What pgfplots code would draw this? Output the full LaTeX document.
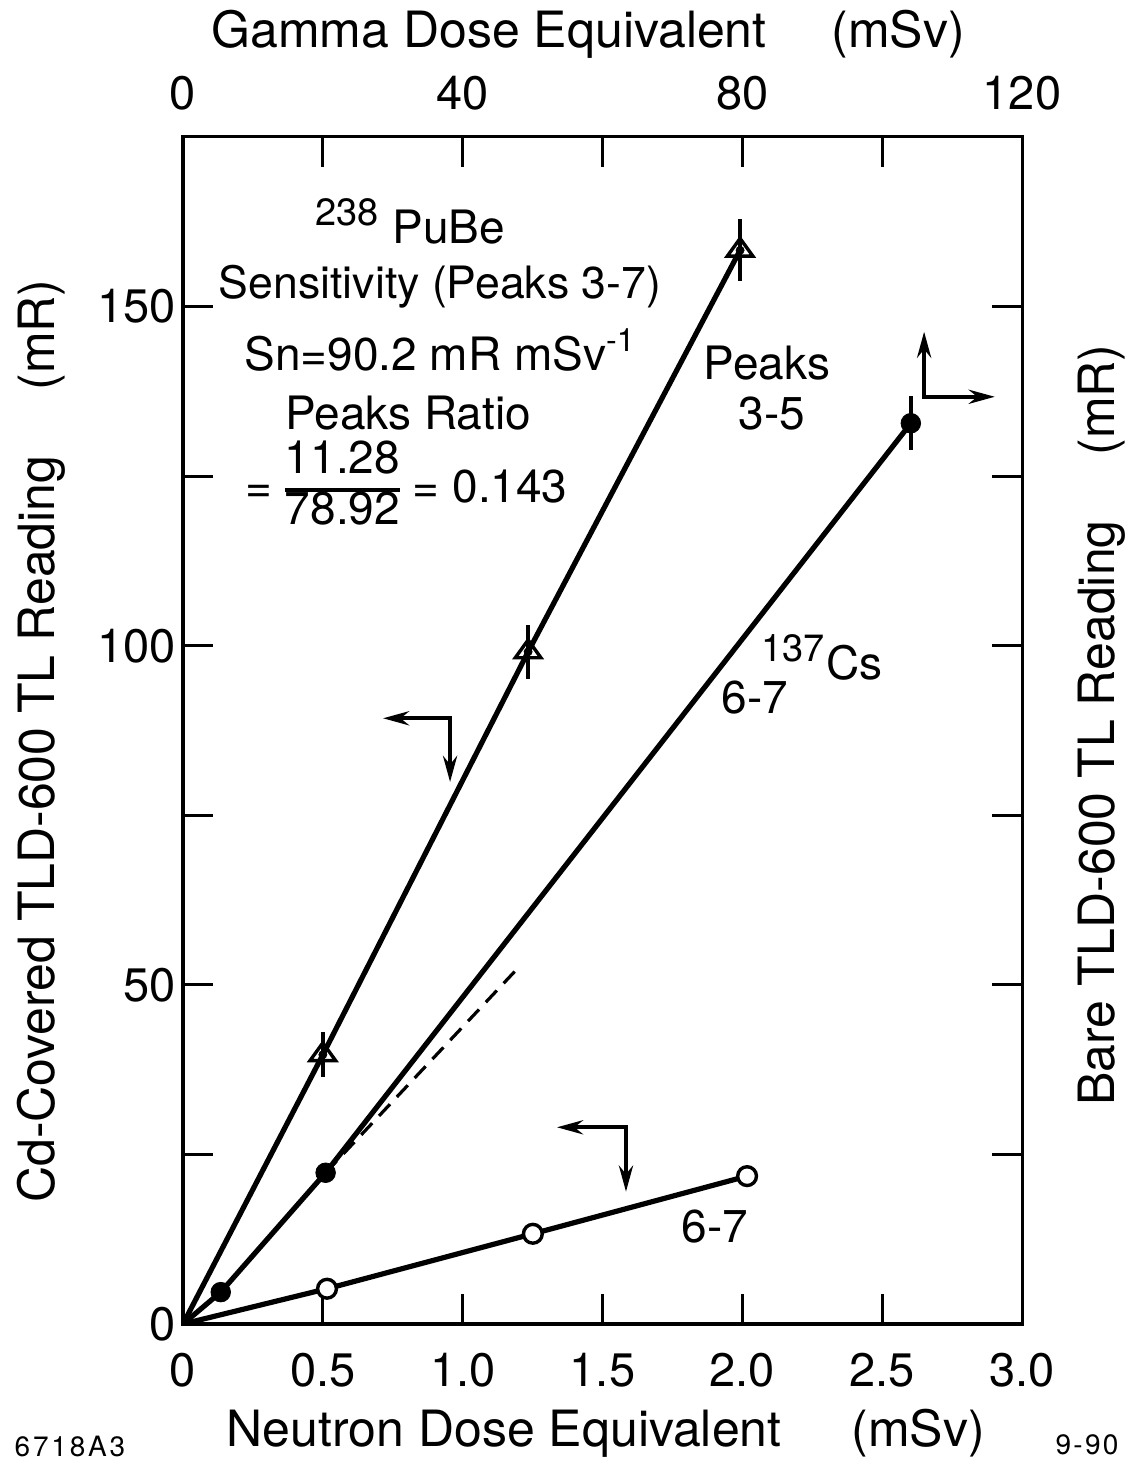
\documentclass[border=0pt]{standalone}
\usepackage{fontspec}
\setmainfont{TeX Gyre Heros}
\usepackage{pgfplots}
\pgfplotsset{compat=1.18}
\usetikzlibrary{arrows.meta}
\newcommand{\ann}{\fontsize{23}{27}\selectfont}
\begin{document}
\begin{tikzpicture}[x=1pt,y=1pt]
\useasboundingbox (0,0) rectangle (563.5,732);
\pgfplotsset{
  common/.style={
    at={(91.5pt,70pt)}, anchor=south west,
    scale only axis, width=419.5pt, height=593.5pt,
    ymin=0, ymax=175,
    tick align=inside,
    major tick length=15pt,
    axis line style={line width=1.5pt},
    every tick/.style={line width=1.5pt, black},
    tick label style={font=\fontsize{23.5}{27}\selectfont},
    /pgf/number format/assume math mode=true,
    label style={font=\fontsize{25}{30}\selectfont},
  }
}
\begin{axis}[common,
  xmin=0, xmax=3,
  xtick={0,0.5,...,3}, xticklabels={0,0.5,1.0,1.5,2.0,2.5,3.0},
  ytick={0,25,...,150}, yticklabels={0,,50,,100,,150},
  xtick pos=bottom, ytick pos=left,
  xticklabel style={yshift=-11pt},
  yticklabel style={xshift=0pt},
  xlabel={Neutron Dose Equivalent\hspace{1.4em}(mSv)},
  ylabel={Cd-Covered TLD-600 TL Reading\hspace{1.3em}(mR)},
  xlabel style={at={(axis description cs:0.504,-0.1036)}, anchor=base},
  ylabel style={at={(axis description cs:-0.1535,0.491)}, anchor=base},
]
% Cd-covered peaks 3-5 (triangles)
\addplot[line width=2.6pt] coordinates {(0,0) (0.5,39.7) (1.234,99.1) (1.992,158.3)};
\addplot[only marks, mark=none, error bars/.cd, y dir=both, y explicit, error mark=none,
  error bar style={line width=1.7pt, black}]
  coordinates {(0.5,39.7) +- (0,3.3) (1.234,99.1) +- (0,4.0) (1.992,158.3) +- (0,4.6)};
\addplot[only marks, mark=triangle, mark size=7.4pt,
  mark options={fill=white, draw=black, line width=1.7pt, yscale=0.8}]
  coordinates {(0.5,39.7) (1.234,99.1) (1.992,158.3)};
% Cd-covered peaks 6-7 (open circles)
\addplot[line width=2.6pt] coordinates {(0,0) (0.515,5.2) (1.251,13.3) (2.017,21.8)};
\addplot[only marks, mark=*, mark size=4.7pt,
  mark options={fill=white, draw=black, line width=1.7pt}]
  coordinates {(0.515,5.2) (1.251,13.3) (2.017,21.8)};
% arrows
\draw[line width=2.2pt, {Stealth[length=13pt,width=7pt]}-{Stealth[length=13pt,width=7pt]}]
  (axis cs:0.715,89.3) -- (axis cs:0.955,89.3) -- (axis cs:0.955,79.9);
\draw[line width=2.2pt, {Stealth[length=13pt,width=7pt]}-{Stealth[length=13pt,width=7pt]}]
  (axis cs:1.337,29.0) -- (axis cs:1.584,29.0) -- (axis cs:1.584,19.5);
\draw[line width=2.2pt, {Stealth[length=13pt,width=7pt]}-{Stealth[length=13pt,width=7pt]}]
  (axis cs:2.650,146.3) -- (axis cs:2.650,136.7) -- (axis cs:2.903,136.7);
% annotations
\node[font=\ann] at (axis cs:0.812,162.5) {\textsuperscript{\fontsize{19}{20}\selectfont 238} PuBe};
\node[font=\fontsize{22.3}{25}\selectfont] at (axis cs:0.919,152.9) {Sensitivity (Peaks 3-7)};
\node[font=\ann] at (axis cs:0.919,143.6) {Sn=90.2 mR mSv\textsuperscript{-1}};
\node[font=\ann] at (axis cs:0.805,134.3) {Peaks Ratio};
\node[font=\ann] at (axis cs:0.799,123.0) {\setlength{\arrayrulewidth}{2.2pt}\renewcommand{\arraystretch}{0.85}= \begin{tabular}{@{}c@{}}11.28\\\hline 78.92\end{tabular} = 0.143};
\node[font=\ann] at (axis cs:2.088,141.7) {Peaks};
\node[font=\ann] at (axis cs:2.106,134.3) {3-5};
\node[font=\ann] at (axis cs:2.285,98.3) {\textsuperscript{\fontsize{19}{20}\selectfont 137}Cs};
\node[font=\ann] at (axis cs:2.045,92.4) {6-7};
\node[font=\ann] at (axis cs:1.902,14.4) {6-7};
\end{axis}
\begin{axis}[common,
  xmin=0, xmax=120,
  xtick={0,20,...,120}, xticklabels={0,,40,,80,,120},
  ytick={25,50,...,150}, yticklabels={},
  xtick pos=top, xticklabel pos=top, ytick pos=right, yticklabel pos=right,
  xticklabel style={yshift=10pt},
  xlabel={Gamma Dose Equivalent\hspace{1.3em}(mSv)},
  ylabel={Bare TLD-600 TL Reading\hspace{1.3em}(mR)},
  xlabel style={at={(axis description cs:0.483,1.075)}, anchor=base},
  ylabel style={at={(axis description cs:1.1097,0.5046)}, anchor=base, rotate=0},
]
% Bare peaks 6-7 vs gamma (filled circles)
\addplot[line width=2.6pt] coordinates {(0,0) (5.4,4.7) (20.4,22.3) (104.1,132.8)};
\addplot[line width=1.6pt, dash pattern=on 8pt off 5pt] coordinates {(20.4,22.3) (48.2,52.8)};
\addplot[only marks, mark=none, error bars/.cd, y dir=both, y explicit, error mark=none,
  error bar style={line width=1.7pt, black}]
  coordinates {(104.1,132.8) +- (0,4.0)};
\addplot[only marks, mark=*, mark size=4.9pt, mark options={fill=black, draw=black}]
  coordinates {(5.4,4.7) (20.4,22.3) (104.1,132.8)};
\end{axis}
\node[font=\fontsize{14}{16}\selectfont\addfontfeatures{LetterSpace=10}] at (35,8.5) {6718A3};
\node[font=\fontsize{14}{16}\selectfont\addfontfeatures{LetterSpace=8}] at (543.5,9.5) {9-90};
\end{tikzpicture}
\end{document}
